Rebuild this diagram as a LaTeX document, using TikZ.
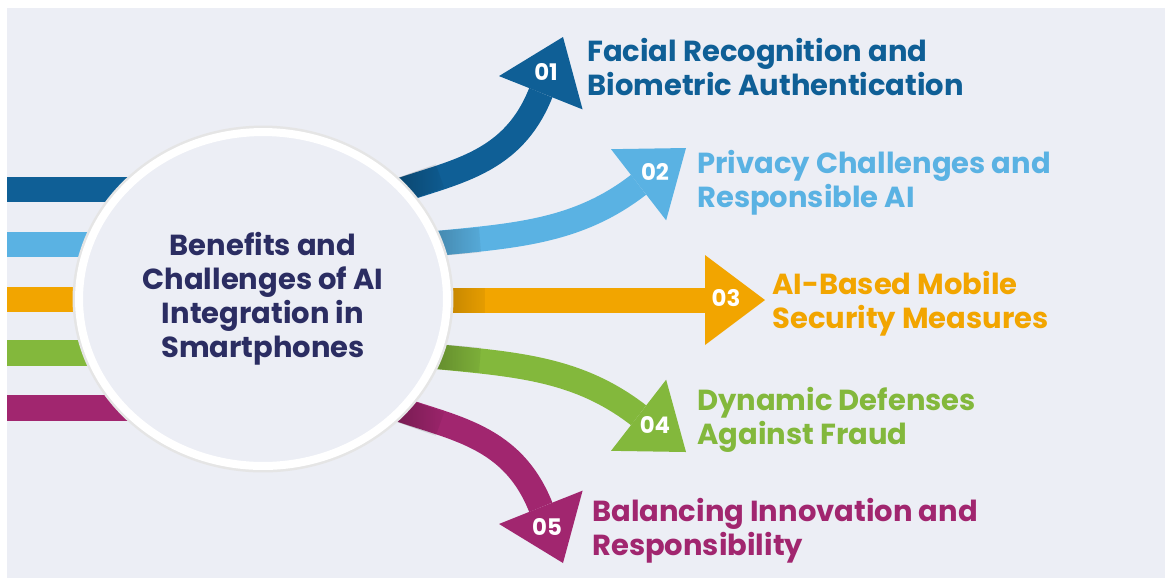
\documentclass[tikz,border=0pt]{standalone}
\usepackage{fontspec}
\setmainfont{Poppins}
\usetikzlibrary{arrows.meta,shapes.geometric,positioning,fadings}

\definecolor{bgcol}{HTML}{ECEEF5}
\definecolor{navy}{HTML}{2B2D62}
\definecolor{cone}{HTML}{0F5F96}
\definecolor{ctwo}{HTML}{5AB2E3}
\definecolor{cthree}{HTML}{F2A500}
\definecolor{cfour}{HTML}{83B83C}
\definecolor{cfive}{HTML}{A1266F}

\pgfdeclarelayer{back}
\pgfsetlayers{back,main}

\tikzset{
  band/.style={line width=0.5cm, draw=#1,
    -{Triangle[length=1.2cm,width=1.8cm,line width=0pt,fill=#1]}},
  shade/.style={draw=black, line width=0.5cm, opacity=0.3, path fading=east},
  leftbar/.style={fill=#1},
  numlbl/.style={text=white, inner sep=0pt,
    font=\bfseries\fontsize{13}{13}\selectfont},
  itemlbl/.style={text=#1, anchor=west, align=left, inner sep=0pt,
    font=\bfseries\fontsize{16.5}{19.5}\selectfont},
  hub/.style={ellipse, fill=bgcol, draw=white, line width=0.16cm,
    preaction={draw=black!10, line width=0.26cm},
    minimum width=7.36cm, minimum height=6.68cm, inner sep=0pt,
    text=navy, align=center, font=\bfseries\fontsize{16.5}{19.3}\selectfont}
}

\begin{document}
\begin{tikzpicture}[x=0.02cm, y=-0.02cm]
\useasboundingbox (0,0) rectangle (1165,586);

% start and tip points of the arrows
\coordinate (s1) at (380,198);
\coordinate (s2) at (420,245);
\coordinate (s3) at (430,300);
\coordinate (s4) at (420,355);
\coordinate (s5) at (380,402);
\coordinate (t1) at (563,37);
\coordinate (t2) at (686,148);
\coordinate (t3) at (765,300);
\coordinate (t4) at (686,452);
\coordinate (t5) at (563,563);

\begin{pgfonlayer}{back}
% page
\fill[white] (0,0) rectangle (1165,586);
\fill[bgcol] (7,8) rectangle (1165,578);

% bars on the left
\fill[leftbar=cone] (7,177) rectangle (200,202);
\fill[leftbar=ctwo] (7,232) rectangle (200,257);
\fill[leftbar=cthree] (7,287) rectangle (200,312);
\fill[leftbar=cfour] (7,340) rectangle (200,366);
\fill[leftbar=cfive] (7,395) rectangle (200,421);

% arrows to the right
\draw[band=cone] (s1) .. controls (445,172) and (510,170) .. (t1);
\draw[band=ctwo] (s2) .. controls (510,236) and (575,234) .. (t2);
\draw[band=cthree] (s3) -- (t3);
\draw[band=cfour] (s4) .. controls (510,364) and (575,366) .. (t4);
\draw[band=cfive] (s5) .. controls (445,428) and (510,430) .. (t5);

% shadow where the arrows leave the circle
\draw[shade] (398,191) -- (440,176);
\draw[shade] (430,244) -- (480,240);
\draw[shade] (430,300) -- (485,300);
\draw[shade] (430,356) -- (480,360);
\draw[shade] (398,409) -- (440,424);
\end{pgfonlayer}

% centre
\node[hub] (hub) at (263,299) {Benefits and\\Challenges of AI\\Integration in\\Smartphones};

% numbers
\node[numlbl] (n1) at (546,72) {01};
\node[numlbl] (n2) at (655,172) {02};
\node[numlbl] (n3) at (726,298) {03};
\node[numlbl] (n4) at (655,425) {04};
\node[numlbl] (n5) at (547,527) {05};

% labels
\node[itemlbl=cone] (l1) at (587,67) {Facial Recognition and\\Biometric Authentication};
\node[itemlbl=ctwo] (l2) at (697,183) {Privacy Challenges and\\Responsible AI};
\node[itemlbl=cthree] (l3) at (772,304) {AI-Based Mobile\\Security Measures};
\node[itemlbl=cfour] (l4) at (697,420) {Dynamic Defenses\\Against Fraud};
\node[itemlbl=cfive] (l5) at (592,531) {Balancing Innovation and\\Responsibility};

\end{tikzpicture}
\end{document}
